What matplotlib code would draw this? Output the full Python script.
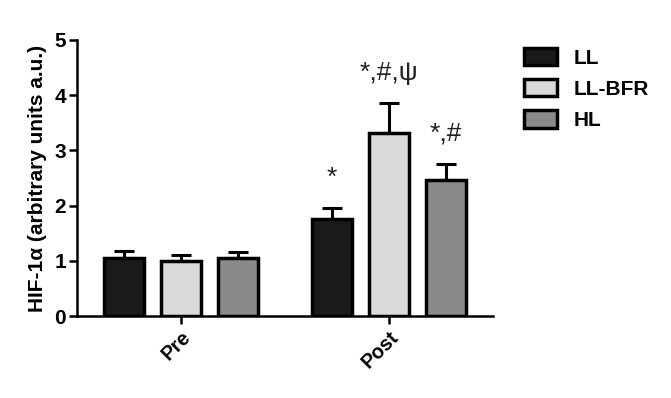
import matplotlib
matplotlib.use("Agg")
import matplotlib.pyplot as plt
import numpy as np

plt.rcParams["font.family"] = ["Liberation Sans", "DejaVu Sans"]

groups = ["Pre", "Post"]
series = ["LL", "LL-BFR", "HL"]
means = {
    "LL": [1.05, 1.76],
    "LL-BFR": [1.00, 3.31],
    "HL": [1.05, 2.46],
}
errs = {
    "LL": [0.12, 0.19],
    "LL-BFR": [0.11, 0.55],
    "HL": [0.11, 0.29],
}
marks = {
    "LL": ["", "*"],
    "LL-BFR": ["", "*,#,\u03c8"],
    "HL": ["", "*,#"],
}
colors = {"LL": "#1a1a1a", "LL-BFR": "#d9d9d9", "HL": "#8a8a8a"}

fig = plt.figure(figsize=(6.71, 3.98), dpi=100)
ax = fig.add_axes([0.115, 0.206, 0.62, 0.6935])

x = np.arange(len(groups))
off = 0.274
w = 0.19
for i, s in enumerate(series):
    xs = x + (i - 1) * off
    ax.bar(xs, means[s], w, color=colors[s], edgecolor="black", linewidth=2.5,
           label=s, zorder=3)
    ax.errorbar(xs, means[s], yerr=[[0] * len(xs), errs[s]], fmt="none",
                ecolor="black", elinewidth=2.2, capsize=7.5, capthick=2.2, zorder=2)
    for xi, m, e, t in zip(xs, means[s], errs[s], marks[s]):
        if t:
            ax.text(xi, m + e + 0.33, t, ha="center", va="bottom", fontsize=19,
                    color="#222222")

ax.set_xlim(-0.5, 1.5)
ax.set_ylim(0, 5)
ax.set_yticks(range(6))
ax.set_xticks(x)
ax.set_xticklabels(groups, rotation=45, ha="right", rotation_mode="anchor",
                   fontweight="bold", fontsize=14.5)
for lbl in ax.get_yticklabels():
    lbl.set_fontweight("bold")
    lbl.set_fontsize(15)
ax.set_ylabel("HIF-1\u03b1 (arbitrary units a.u.)", fontweight="bold", fontsize=15,
              labelpad=5)
for sp in ["top", "right"]:
    ax.spines[sp].set_visible(False)
for sp in ["left", "bottom"]:
    ax.spines[sp].set_linewidth(1.8)
ax.tick_params(axis="both", width=1.8, length=6, pad=2)

leg = ax.legend(loc="upper left", bbox_to_anchor=(1.03, 1.04), frameon=False,
                prop={"weight": "bold", "size": 15}, handlelength=1.55,
                handleheight=0.9, labelspacing=0.55, handletextpad=0.8)
for h in leg.legend_handles:
    h.set_linewidth(2.5)

fig.savefig("out.png", dpi=100)
